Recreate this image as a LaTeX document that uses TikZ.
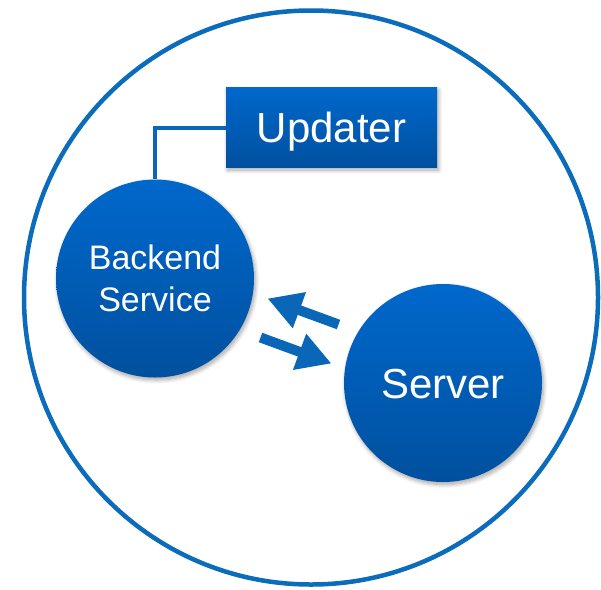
\documentclass[tikz,border=0pt]{standalone}
\usepackage{fontspec}
\setmainfont{Liberation Sans}
\usetikzlibrary{arrows.meta,shadows.blur}

\definecolor{ringblue}{RGB}{12,108,188}
\definecolor{topblue}{RGB}{0,104,204}
\definecolor{botblue}{RGB}{0,80,158}
\definecolor{arrowblue}{RGB}{10,102,182}

\tikzset{
  softshadow/.style={blur shadow={shadow xshift=1.5pt, shadow yshift=-2.5pt,
      shadow blur steps=8, shadow blur radius=4pt, shadow opacity=35}},
  ballnode/.style={circle, minimum size=198pt, inner sep=0pt,
      top color=topblue, bottom color=botblue, text=white, softshadow},
  boxnode/.style={rectangle, minimum width=211pt, minimum height=80pt, inner sep=0pt,
      top color=topblue, bottom color=botblue, text=white, softshadow},
  linker/.style={draw=arrowblue, line width=4pt},
  flow/.style={draw=arrowblue, line width=10pt,
      -{Triangle[width=36pt, length=34pt]}},
}

\begin{document}
\begin{tikzpicture}[x=1pt, y=-1pt]
  \useasboundingbox (0,0) rectangle (601,589);

  % enclosing ring
  \draw[ringblue, line width=4.5pt] (311,297.5) circle[radius=287];

  % components
  \node[boxnode, font=\fontsize{42}{50}\selectfont, text height=30pt, text depth=0pt]
    (updater) at (331.5,127.5) {Updater};
  \node[ballnode, align=center, font=\fontsize{34}{42}\selectfont]
    (backend) at (155,278.5) {Backend\\Service};
  \node[ballnode, font=\fontsize{42}{50}\selectfont, text height=30pt, text depth=0pt]
    (server) at (443,383) {Server};

  % link between updater and backend
  \draw[linker] (updater.west) -| (backend.north);

  % request / response arrows
  \coordinate (inTail) at (338.5,324.5);
  \coordinate (inTip) at (267.5,298.5);
  \coordinate (outTail) at (260.5,337.5);
  \coordinate (outTip) at (331.5,363.5);
  \draw[flow] (inTail) -- (inTip);
  \draw[flow] (outTail) -- (outTip);
\end{tikzpicture}
\end{document}
